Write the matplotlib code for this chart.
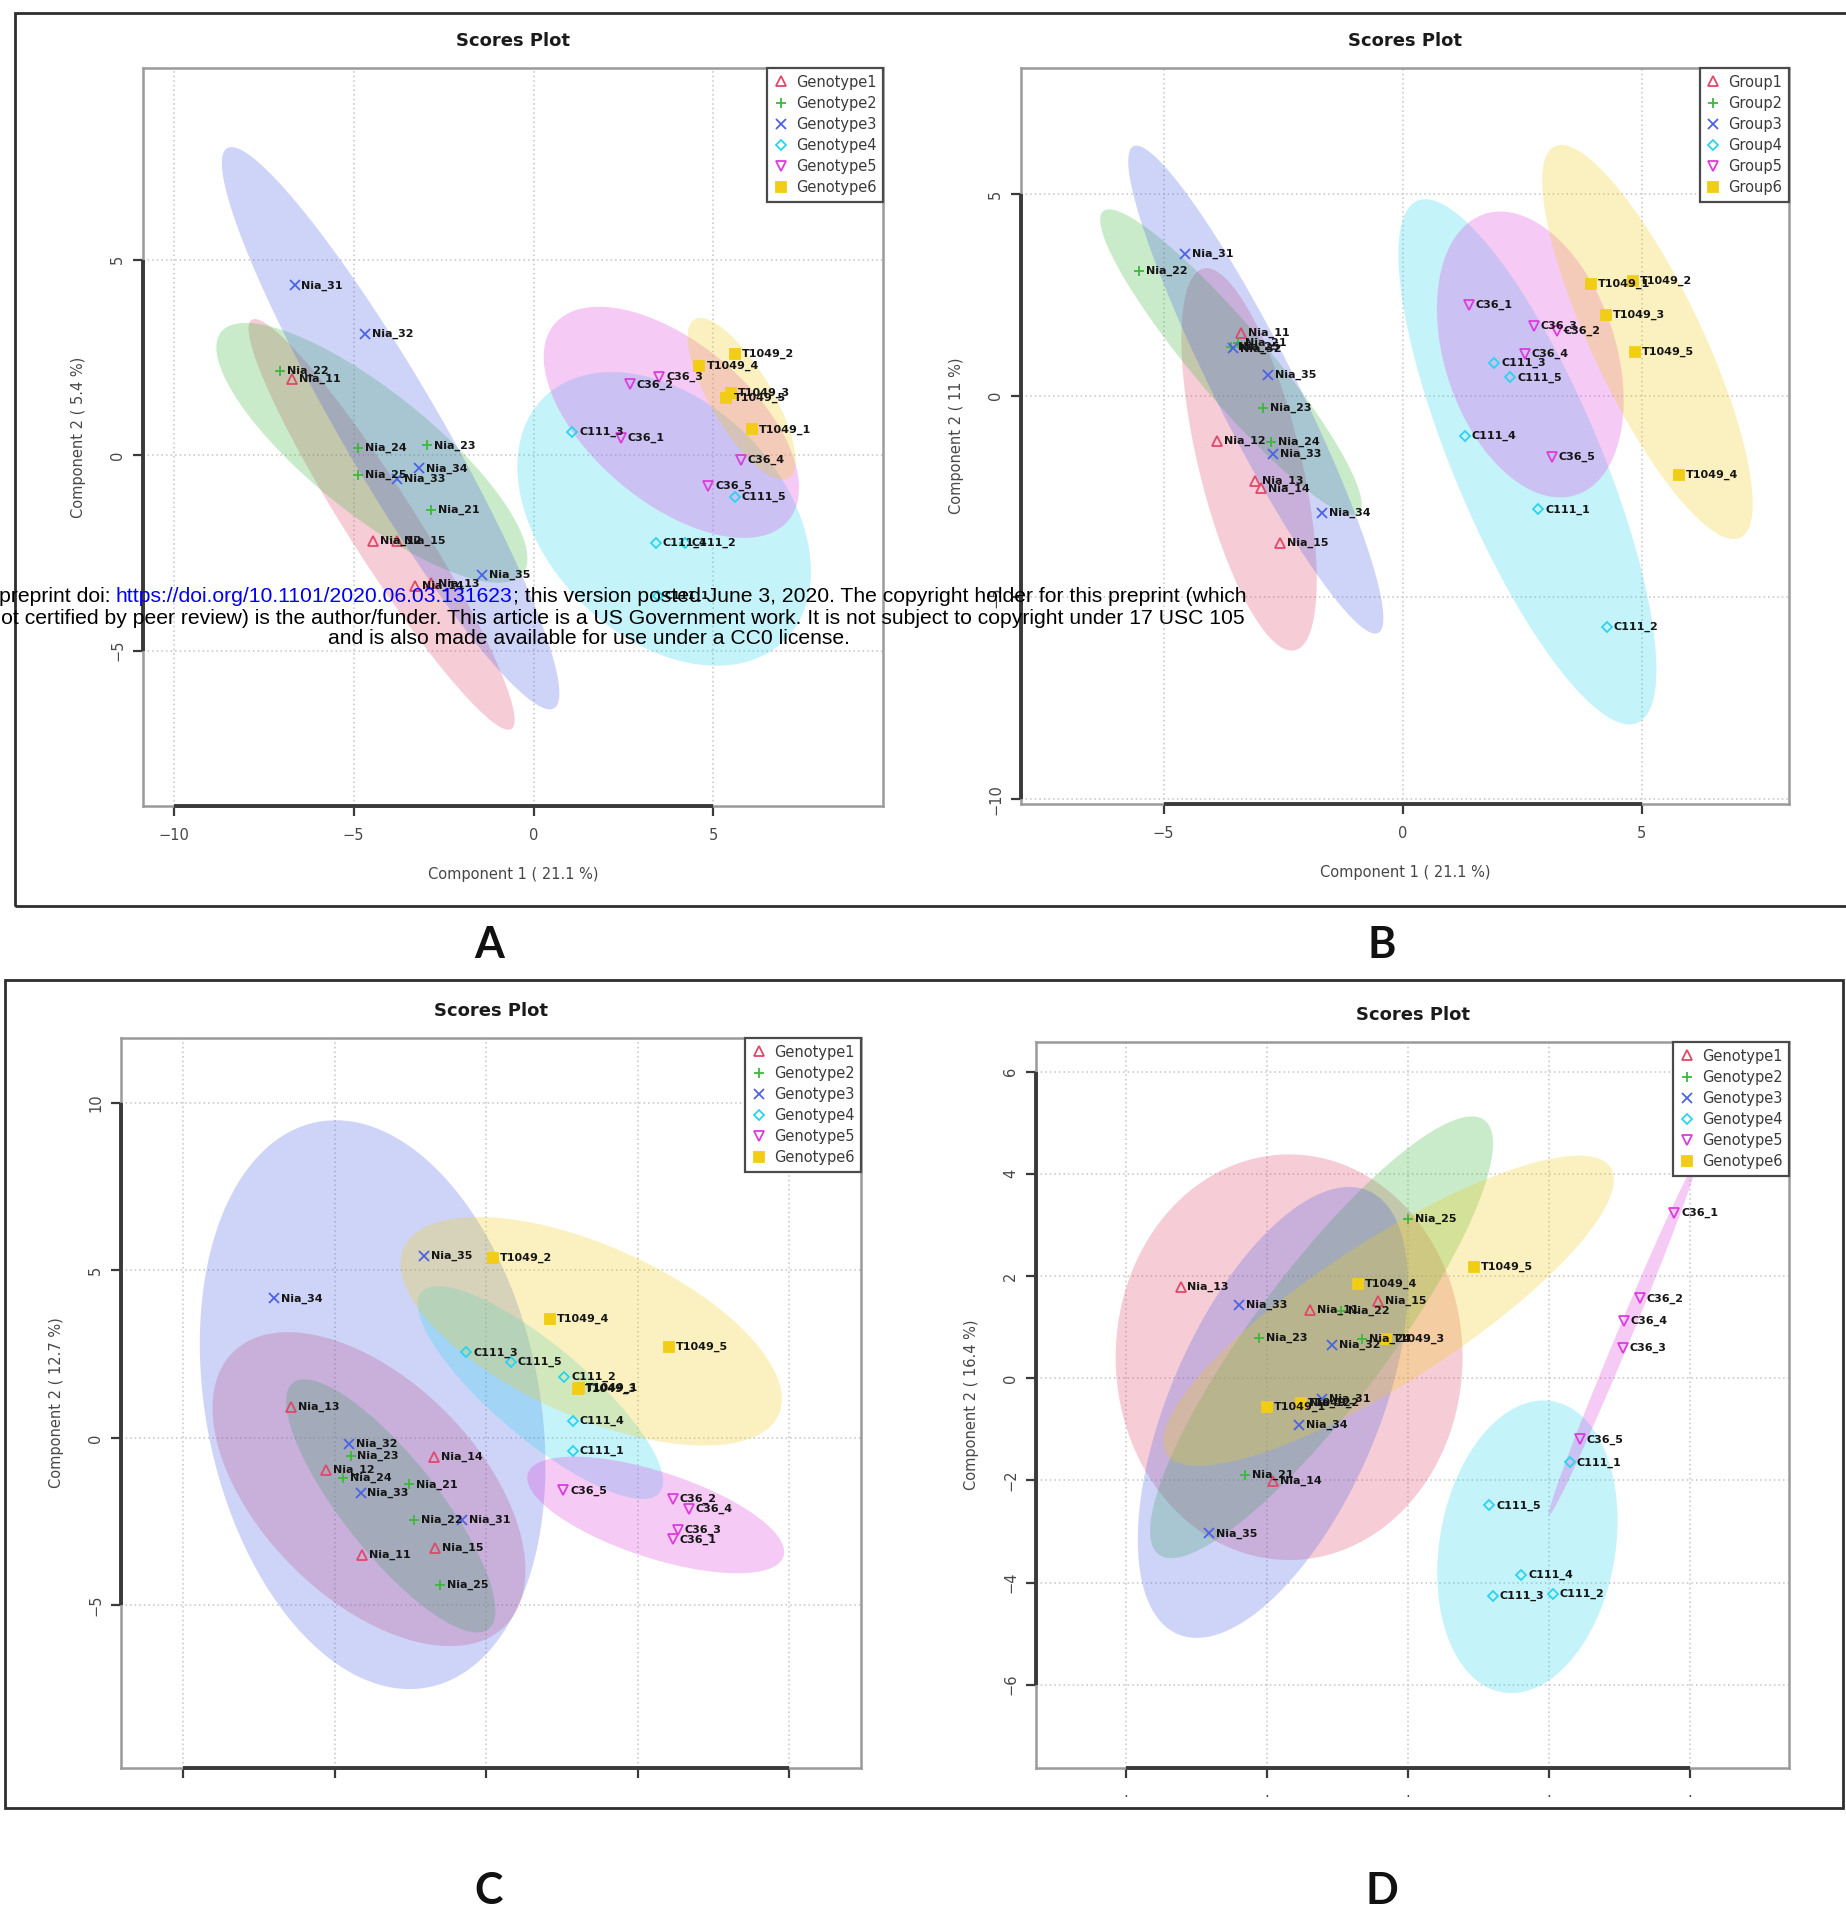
import numpy as np
import matplotlib
matplotlib.use('Agg')
import matplotlib.pyplot as plt
from matplotlib.patches import Rectangle
from matplotlib.lines import Line2D

plt.rcParams['font.family'] = ['DejaVu Sans']

W, H = 1846, 1916

GROUP_COLORS = ['#E0486A', '#3DB83D', '#4D63E6', '#2BD4EE', '#DD3CDD', '#F2CD16']
GROUP_MARKERS = ['^', '+', 'x', 'D', 'v', 's']
GENO_LABELS = ['Genotype1', 'Genotype2', 'Genotype3', 'Genotype4', 'Genotype5', 'Genotype6']
GROUP_LABELS = ['Group1', 'Group2', 'Group3', 'Group4', 'Group5', 'Group6']

# ---------------- Panel A ----------------
a_names = ['Nia_11', 'Nia_12', 'Nia_15', 'Nia_14', 'Nia_13',
           'Nia_22', 'Nia_24', 'Nia_23', 'Nia_25', 'Nia_21',
           'Nia_31', 'Nia_32', 'Nia_33', 'Nia_34', 'Nia_35',
           'C111_3', 'C111_5', 'C111_4', 'C111_2', 'C111_1',
           'C36_2', 'C36_3', 'C36_1', 'C36_4', 'C36_5',
           'T1049_2', 'T1049_4', 'T1049_3', 'T1049_5', 'T1049_1']
a_x = [-6.71, -4.47, -3.80, -3.29, -2.85,
       -7.05, -4.88, -2.95, -4.88, -2.85,
       -6.64, -4.68, -3.80, -3.19, -1.42,
       1.08, 5.59, 3.39, 4.20, 3.46,
       2.68, 3.49, 2.42, 5.76, 4.85,
       5.59, 4.61, 5.49, 5.36, 6.07]
a_y = [1.94, -2.19, -2.20, -3.34, -3.28,
       2.16, 0.19, 0.25, -0.50, -1.41,
       4.34, 3.09, -0.60, -0.34, -3.06,
       0.60, -1.06, -2.25, -2.25, -3.60,
       1.81, 2.00, 0.44, -0.13, -0.78,
       2.59, 2.28, 1.59, 1.47, 0.66]
a_grp = [0] * 5 + [1] * 5 + [2] * 5 + [3] * 5 + [4] * 5 + [5] * 5
# ellipses: centre x, centre y, semi-axis vector u, conjugate semi-axis vector v
a_ellipses = [(-4.22, -1.77, 3.61, -5.23, 0.80, 0.47),
              (-4.49, 0.06, 4.19, -3.09, 1.06, 1.22),
              (-3.97, 0.69, 4.54, -7.16, 1.17, 0.63),
              (3.63, -1.63, 3.36, -3.09, 2.31, 2.13),
              (3.83, 0.84, 3.25, -2.51, 1.42, 1.56),
              (5.78, 1.44, 1.31, -2.03, 0.73, 0.40)]
a_xticks = [-10, -5, 0, 5]
a_yticks = [-5, 0, 5]

# ---------------- Panel B ----------------
b_names = ['Nia_11', 'Nia_12', 'Nia_13', 'Nia_14', 'Nia_15',
           'Nia_22', 'Nia_25', 'Nia_23', 'Nia_24', 'Nia_21',
           'Nia_31', 'Nia_35', 'Nia_33', 'Nia_34', 'Nia_32',
           'C111_3', 'C111_5', 'C111_4', 'C111_1', 'C111_2',
           'C36_1', 'C36_3', 'C36_2', 'C36_4', 'C36_5',
           'T1049_1', 'T1049_2', 'T1049_3', 'T1049_5', 'T1049_4']
b_x = [-3.38, -3.89, -3.09, -2.97, -2.56,
       -5.52, -3.58, -2.92, -2.76, -3.45,
       -4.55, -2.81, -2.71, -1.69, -3.55,
       1.92, 2.25, 1.30, 2.84, 4.27,
       1.38, 2.74, 3.22, 2.56, 3.12,
       3.94, 4.81, 4.25, 4.86, 5.78]
b_y = [1.55, -1.12, -2.12, -2.30, -3.64,
       3.09, 1.21, -0.30, -1.15, 1.30,
       3.52, 0.52, -1.45, -2.91, 1.17,
       0.82, 0.45, -1.00, -2.82, -5.73,
       2.24, 1.73, 1.61, 1.03, -1.52,
       2.76, 2.85, 2.00, 1.09, -1.97]
b_grp = [0] * 5 + [1] * 5 + [2] * 5 + [3] * 5 + [4] * 5 + [5] * 5
b_ellipses = [(-3.21, -1.58, 0.96, -4.73, 1.04, 0.30),
              (-3.59, 0.83, 2.67, -3.74, 0.59, 0.59),
              (-3.07, 0.15, 2.56, -6.03, 0.75, 0.45),
              (2.61, -1.64, 2.30, -6.47, 1.41, 0.71),
              (2.67, 1.02, 0.96, -3.48, 1.70, 0.66),
              (5.12, 1.33, 1.94, -4.85, 1.04, 0.58)]
b_xticks = [-5, 0, 5]
b_yticks = [-10, -5, 0, 5]

# ---------------- Panel C ----------------
c_names = ['Nia_13', 'Nia_12', 'Nia_14', 'Nia_15', 'Nia_11',
           'Nia_23', 'Nia_24', 'Nia_21', 'Nia_22', 'Nia_25',
           'Nia_32', 'Nia_33', 'Nia_31', 'Nia_34', 'Nia_35',
           'C111_3', 'C111_5', 'C111_2', 'C111_4', 'C111_1',
           'C36_5', 'C36_2', 'C36_4', 'C36_3', 'C36_1',
           'T1049_2', 'T1049_4', 'T1049_5', 'T1049_3', 'T1049_1']
c_x = [-6.45, -5.28, -1.73, -1.69, -4.11,
       -4.48, -4.72, -2.54, -2.38, -1.53,
       -4.52, -4.15, -0.81, -7.02, -2.06,
       -0.65, 0.81, 2.58, 2.86, 2.86,
       2.54, 6.17, 6.69, 6.33, 6.17,
       0.24, 2.10, 6.05, 3.02, 3.05]
c_y = [0.91, -0.95, -0.58, -3.28, -3.50,
       -0.55, -1.20, -1.39, -2.45, -4.38,
       -0.18, -1.64, -2.45, 4.16, 5.44,
       2.55, 2.26, 1.82, 0.51, -0.40,
       -1.57, -1.82, -2.12, -2.74, -3.03,
       5.36, 3.54, 2.70, 1.46, 1.50]
c_grp = [0] * 5 + [1] * 5 + [2] * 5 + [3] * 5 + [4] * 5 + [5] * 5
c_ellipses = [(-3.87, -1.53, 4.50, -4.08, 2.54, 2.30),
              (-3.15, -2.03, 3.23, -3.67, 1.23, 0.89),
              (-3.75, 0.99, 1.85, -8.43, 5.40, 0.97),
              (1.79, 1.35, 3.93, -2.99, 0.99, 1.06),
              (5.60, -2.30, 4.22, -1.24, 0.44, 1.22),
              (3.47, 3.18, 6.19, -2.49, 1.15, 2.33)]
c_xticks = [-10, -5, 0, 5, 10]
c_yticks = [-5, 0, 5, 10]

# ---------------- Panel D ----------------
d_names = ['Nia_13', 'Nia_11', 'Nia_15', 'Nia_14', 'Nia_12',
           'Nia_25', 'Nia_23', 'Nia_24', 'Nia_21', 'Nia_22',
           'Nia_33', 'Nia_32', 'Nia_34', 'Nia_35', 'Nia_31',
           'C111_1', 'C111_5', 'C111_4', 'C111_3', 'C111_2',
           'C36_1', 'C36_2', 'C36_4', 'C36_3', 'C36_5',
           'T1049_5', 'T1049_4', 'T1049_3', 'T1049_1', 'T1049_2']
d_x = [-3.22, -1.39, -0.42, -1.91, -1.49,
       0.00, -2.11, -0.64, -2.30, -0.94,
       -2.39, -1.07, -1.54, -2.81, -1.21,
       2.30, 1.16, 1.61, 1.21, 2.06,
       3.78, 3.29, 3.07, 3.05, 2.44,
       0.94, -0.71, -0.31, -1.99, -1.51]
d_y = [1.79, 1.34, 1.51, -2.01, -0.48,
       3.11, 0.79, 0.77, -1.89, 1.32,
       1.44, 0.65, -0.91, -3.04, -0.41,
       -1.65, -2.49, -3.85, -4.26, -4.23,
       3.23, 1.56, 1.12, 0.60, -1.20,
       2.18, 1.84, 0.77, -0.57, -0.48]
d_grp = [0] * 5 + [1] * 5 + [2] * 5 + [3] * 5 + [4] * 5 + [5] * 5
d_ellipses = [(-1.68, 0.41, 0.00, 3.97, 2.46, 0.00),
              (-1.22, 0.80, 2.31, 4.25, 0.76, -0.79),
              (-1.91, -0.67, 1.35, 4.34, 1.36, -0.80),
              (1.70, -3.30, 0.35, 2.85, 1.23, -0.28),
              (3.05, 0.77, 1.04, 3.44, 0.096, -0.055),
              (-0.27, 1.32, 3.15, 2.80, 0.54, -1.17)]
d_xticks = [-4, -2, 0, 2, 4]
d_yticks = [-6, -4, -2, 0, 2, 4, 6]

fig = plt.figure(figsize=(W / 100, H / 100), dpi=100)


def ax_at(x0, y0, x1, y1):
    return fig.add_axes([x0 / W, 1 - y1 / H, (x1 - x0) / W, (y1 - y0) / H])


def marker_kw(g):
    m = GROUP_MARKERS[g]
    c = GROUP_COLORS[g]
    kw = dict(marker=m, color=c, ls='none', mew=1.3)
    if m in ('^', 'v'):
        kw.update(mfc='none', ms=7)
    elif m == 'D':
        kw.update(mfc='none', ms=5.5)
    elif m == 's':
        kw.update(mfc=c, mec=c, ms=6.5)
    else:
        kw.update(ms=7)
    return kw


def draw_panel(ax, names, xs, ys, grps, ells, leg_labels, xlim, ylim,
               xticks, yticks, xticklabels, xlabel, ylabel):
    ax.set_xlim(xlim)
    ax.set_ylim(ylim)
    t = np.linspace(0, 2 * np.pi, 300)
    for g, (cx, cy, ux, uy, vx, vy) in enumerate(ells):
        ex = cx + ux * np.cos(t) + vx * np.sin(t)
        ey = cy + uy * np.cos(t) + vy * np.sin(t)
        ax.fill(ex, ey, color=GROUP_COLORS[g], alpha=0.27, lw=0, zorder=1)
    xs = np.asarray(xs)
    ys = np.asarray(ys)
    grps = np.asarray(grps)
    for g in range(6):
        sel = grps == g
        ax.plot(xs[sel], ys[sel], zorder=3, **marker_kw(g))
    for n, x, y in zip(names, xs, ys):
        ax.annotate(n, (x, y), xytext=(5, 0), textcoords='offset points',
                    ha='left', va='center', fontsize=8, fontweight='bold',
                    color='#151515', zorder=4)
    ax.set_xticks(xticks)
    ax.set_yticks(yticks)
    if xticklabels is not None:
        ax.set_xticklabels(xticklabels)
    ax.grid(True, ls=(0, (1, 2)), color='#c4c4c4', lw=1.1)
    ax.set_axisbelow(True)
    for sp in ax.spines.values():
        sp.set_color('#9a9a9a')
        sp.set_linewidth(1.8)
    ax.tick_params(length=7, width=1.6, color='#3a3a3a', labelsize=10.5,
                   labelcolor='#474747')
    ax.tick_params(axis='x', pad=9)
    ax.tick_params(axis='y', pad=6, labelrotation=90)
    for lab in ax.get_yticklabels():
        lab.set_verticalalignment('center')
    ax.plot([xticks[0], xticks[-1]], [0, 0], transform=ax.get_xaxis_transform(),
            color='#3a3a3a', lw=2.8, clip_on=False, solid_capstyle='butt', zorder=6)
    ax.plot([0, 0], [yticks[0], yticks[-1]], transform=ax.get_yaxis_transform(),
            color='#3a3a3a', lw=2.8, clip_on=False, solid_capstyle='butt', zorder=6)
    if xlabel:
        ax.set_xlabel(xlabel, fontsize=10.5, color='#474747', labelpad=17)
    ax.set_ylabel(ylabel, fontsize=10.5, color='#474747', labelpad=17)
    ax.set_title('Scores Plot', fontsize=13, fontweight='bold', color='#1a1a1a', pad=16)
    handles = [Line2D([], [], **marker_kw(g)) for g in range(6)]
    leg = ax.legend(handles, leg_labels, loc='upper right', fontsize=10.5,
                    frameon=True, fancybox=False, framealpha=1, edgecolor='#4a4a4a',
                    borderaxespad=0.0, handlelength=0.9, handletextpad=0.6,
                    labelspacing=0.42, borderpad=0.45, numpoints=1)
    leg.get_frame().set_linewidth(1.6)
    for txt in leg.get_texts():
        txt.set_color('#3a3a3a')
    leg.set_zorder(10)


axA = ax_at(143, 68, 883, 806)
draw_panel(axA, a_names, a_x, a_y, a_grp, a_ellipses, GENO_LABELS,
           (-10.85, 9.71), (-8.97, 9.9), a_xticks, a_yticks, None,
           'Component 1 ( 21.1 %)', 'Component 2 ( 5.4 %)')

axB = ax_at(1021, 68, 1789, 804)
draw_panel(axB, b_names, b_x, b_y, b_grp, b_ellipses, GROUP_LABELS,
           (-7.98, 8.08), (-10.12, 8.12), b_xticks, b_yticks, None,
           'Component 1 ( 21.1 %)', 'Component 2 ( 11 %)')

axC = ax_at(121, 1038, 861, 1768)
draw_panel(axC, c_names, c_x, c_y, c_grp, c_ellipses, GENO_LABELS,
           (-12.06, 12.38), (-9.85, 11.93), c_xticks, c_yticks,
           [''] * len(c_xticks), None, 'Component 2 ( 12.7 %)')

axD = ax_at(1036, 1042, 1789, 1768)
draw_panel(axD, d_names, d_x, d_y, d_grp, d_ellipses, GENO_LABELS,
           (-5.27, 5.41), (-7.63, 6.58), d_xticks, d_yticks,
           ['\u00b7'] * len(d_xticks), None, 'Component 2 ( 16.4 %)')

# outer frames
fig.add_artist(Rectangle((15 / W, 1 - 906 / H), (W + 20 - 15) / W, (906 - 13) / H,
                         transform=fig.transFigure, fill=False, lw=2.0, ec='#2e2e2e'))
fig.add_artist(Rectangle((5 / W, 1 - 1808 / H), (1843 - 5) / W, (1808 - 980) / H,
                         transform=fig.transFigure, fill=False, lw=2.0, ec='#2e2e2e'))

# panel letters
for letter, (px, py) in zip(['A', 'B', 'C', 'D'],
                            [(489, 945), (1382, 945), (489, 1891), (1382, 1891)]):
    fig.text(px / W, 1 - py / H, letter, fontsize=31, fontweight='bold',
             family=['Lato', 'DejaVu Sans'], ha='center', va='center', color='#111111')

# bioRxiv watermark
renderer = fig.canvas.get_renderer()
wm_family = ['Liberation Sans', 'DejaVu Sans']
line3 = 'and is also made available for use under a CC0 license.'
line2 = ('was not certified by peer review) is the author/funder. This article is a US '
         'Government work. It is not subject to copyright under 17 USC 105')
l1_pre = 'bioRxiv preprint doi: '
l1_link = 'https://doi.org/10.1101/2020.06.03.131623'
l1_post = '; this version posted June 3, 2020. The copyright holder for this preprint (which'

t3 = fig.text(589 / W, 1 - 639 / H, line3, ha='center', va='center',
              family=wm_family, fontsize=14, color='black', zorder=20)
w3 = t3.get_window_extent(renderer).width
fs = 14 * 528 / w3
t3.set_fontsize(fs)
fig.text(1245 / W, 1 - 618 / H, line2, ha='right', va='center',
         family=wm_family, fontsize=fs, color='black', zorder=20)
tl = fig.text(116 / W, 1 - 597 / H, l1_link, ha='left', va='center',
              family=wm_family, fontsize=fs, color='#0000EE', zorder=20)
fig.text(116 / W, 1 - 597 / H, l1_pre, ha='right', va='center',
         family=wm_family, fontsize=fs, color='black', zorder=20)
link_end = tl.get_window_extent(renderer).x1
fig.text(link_end / W, 1 - 597 / H, l1_post, ha='left', va='center',
         family=wm_family, fontsize=fs, color='black', zorder=20)

fig.savefig('out.png', dpi=100)
